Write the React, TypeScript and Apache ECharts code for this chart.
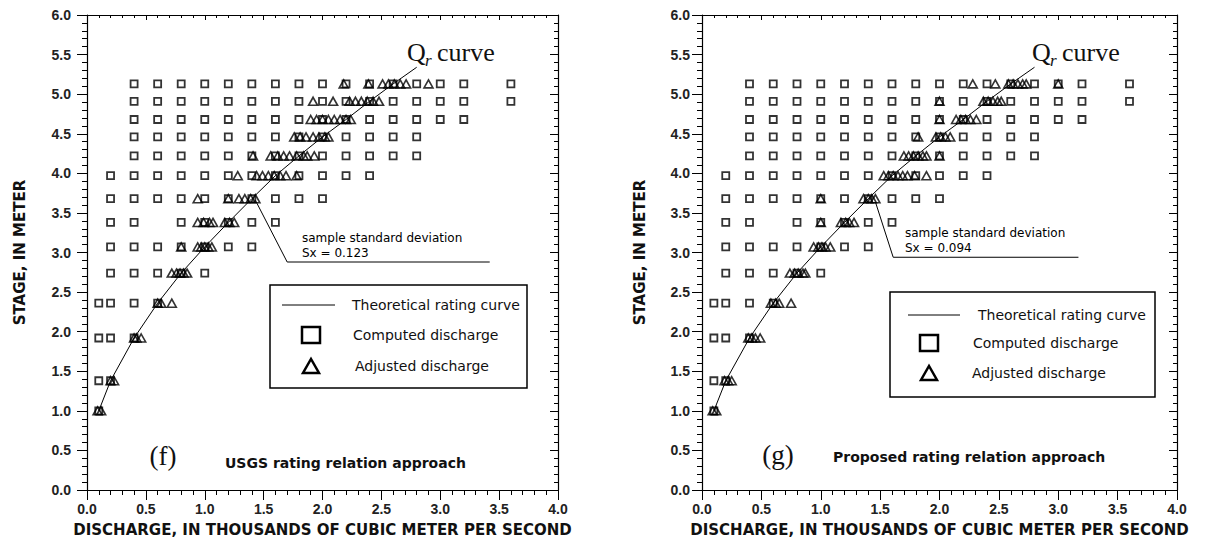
import React, { useEffect, useRef } from "react";
import * as echarts from "echarts";

// Stage levels (m) of the computed-discharge grid rows
const stageLevels = [1.0, 1.38, 1.92, 2.36, 2.74, 3.07, 3.38, 3.68, 3.97, 4.22, 4.46, 4.68, 4.91, 5.13];

// Theoretical rating curve (Qr): discharge (thousand m3/s) vs stage (m)
const curveDischarge = [0.1, 0.2, 0.4, 0.6, 0.8, 1.0, 1.2, 1.4, 1.6, 1.8, 2.0, 2.2, 2.4, 2.6, 2.8];
const curveStage = [1.0, 1.38, 1.92, 2.36, 2.74, 3.07, 3.38, 3.68, 3.97, 4.22, 4.46, 4.68, 4.91, 5.13, 5.34];

// Computed discharge per stage row (same in both panels)
const computedDischarge: number[][] = [
  [0.1],
  [0.1, 0.2],
  [0.1, 0.2, 0.4],
  [0.1, 0.2, 0.4, 0.6],
  [0.2, 0.4, 0.6, 0.8, 1.0],
  [0.2, 0.4, 0.6, 0.8, 1.0, 1.2, 1.4],
  [0.2, 0.4, 0.8, 1.0, 1.2, 1.4, 1.6],
  [0.2, 0.4, 0.6, 0.8, 1.0, 1.2, 1.4, 1.6, 1.8, 2.0],
  [0.2, 0.4, 0.6, 0.8, 1.0, 1.2, 1.4, 1.6, 1.8, 2.0, 2.2, 2.4],
  [0.4, 0.6, 0.8, 1.0, 1.2, 1.4, 1.6, 1.8, 2.0, 2.2, 2.4, 2.6, 2.8],
  [0.4, 0.6, 0.8, 1.0, 1.2, 1.4, 1.6, 1.8, 2.0, 2.2, 2.4, 2.6, 2.8],
  [0.4, 0.6, 0.8, 1.0, 1.2, 1.4, 1.6, 1.8, 2.0, 2.2, 2.4, 2.6, 2.8, 3.0, 3.2],
  [0.4, 0.6, 0.8, 1.0, 1.2, 1.4, 1.6, 1.8, 2.0, 2.2, 2.4, 2.6, 2.8, 3.0, 3.2, 3.6],
  [0.4, 0.6, 0.8, 1.0, 1.2, 1.4, 1.6, 1.8, 2.0, 2.2, 2.4, 2.6, 2.8, 3.0, 3.2, 3.6],
];

// Adjusted discharge, panel (f) USGS rating relation approach
const adjustedUSGS: number[][] = [
  [0.09, 0.12],
  [0.2, 0.23],
  [0.4, 0.42, 0.46],
  [0.6, 0.63, 0.72],
  [0.72, 0.76, 0.79, 0.82, 0.85],
  [0.8, 0.94, 0.97, 1.0, 1.03, 1.06],
  [0.94, 0.99, 1.04, 1.07, 1.17, 1.21, 1.25],
  [0.94, 1.2, 1.29, 1.34, 1.39, 1.43],
  [1.28, 1.44, 1.49, 1.54, 1.59, 1.64, 1.69, 1.78],
  [1.41, 1.56, 1.62, 1.67, 1.72, 1.78, 1.84, 1.87, 1.93],
  [1.76, 1.81, 1.86, 1.92, 1.97, 2.02, 2.05],
  [1.9, 1.95, 2.0, 2.05, 2.1, 2.15, 2.2, 2.24],
  [1.92, 2.09, 2.23, 2.28, 2.33, 2.38, 2.43, 2.48],
  [2.18, 2.39, 2.51, 2.56, 2.61, 2.66, 2.71, 2.9],
];

// Adjusted discharge, panel (g) proposed rating relation approach
const adjustedProposed: number[][] = [
  [0.09, 0.12],
  [0.19, 0.22, 0.25],
  [0.39, 0.42, 0.45, 0.49],
  [0.58, 0.62, 0.65, 0.75],
  [0.74, 0.78, 0.81, 0.85, 0.87],
  [0.94, 0.98, 1.01, 1.04, 1.08],
  [1.0, 1.17, 1.21, 1.24, 1.28],
  [1.0, 1.36, 1.4, 1.43, 1.46],
  [1.53, 1.57, 1.61, 1.65, 1.69, 1.73, 1.79, 1.89],
  [1.7, 1.74, 1.78, 1.82, 1.86, 1.89, 2.0],
  [1.82, 1.97, 2.01, 2.05, 2.09],
  [2.0, 2.14, 2.18, 2.22, 2.26, 2.31],
  [2.0, 2.37, 2.41, 2.45, 2.49, 2.52],
  [2.28, 2.47, 2.58, 2.62, 2.66, 2.7, 2.73, 3.0],
];

// Leader lines for the sample-standard-deviation notes (data coords)
const leaderUSGS = [[1.43, 3.66], [1.7, 2.88], [3.42, 2.88]];
const leaderProposed = [[1.46, 3.64], [1.61, 2.94], [3.17, 2.94]];

const sdUSGS = "0.123";
const sdProposed = "0.094";

const xTitle = "DISCHARGE, IN THOUSANDS OF CUBIC METER PER SECOND";
const yTitle = "STAGE, IN METER";

const SANS = "'DejaVu Sans', 'Liberation Sans', Arial, sans-serif";
const ARIAL = "'Liberation Sans', Arial, sans-serif";
const SERIF = "'Liberation Serif', 'Times New Roman', serif";
const INK = "#111";

function rowsToPoints(rows: number[][]) {
  const pts: number[][] = [];
  rows.forEach((qs, k) => qs.forEach((q) => pts.push([q, stageLevels[k]])));
  return pts;
}

const curvePoints = curveDischarge.map((q, i) => [q, curveStage[i]]);

const grids = [
  { left: 87, top: 15, width: 471, height: 475 },
  { left: 702, top: 15, width: 475, height: 475 },
];

function buildAxes(gi: number, yLabelMargin: number, yNameGap: number) {
  const axisLine = { show: true, onZero: false, lineStyle: { color: "#000", width: 1.2 } };
  const labelStyle = { color: "#222", fontFamily: ARIAL, fontWeight: "bold" as const, fontSize: 14 };
  const x = [
    {
      type: "value", gridIndex: gi, position: "bottom", min: 0, max: 4, interval: 0.5,
      axisLine, splitLine: { show: false },
      axisTick: { show: true, length: 10, lineStyle: { color: "#000" } },
      minorTick: { show: true, splitNumber: 5, length: 5, lineStyle: { color: "#000" } },
      axisLabel: { ...labelStyle, margin: 12, formatter: (v: number) => v.toFixed(1) },
      name: xTitle, nameLocation: "middle", nameGap: 32,
      nameTextStyle: { color: INK, fontFamily: SANS, fontWeight: "bold", fontSize: 15 },
    },
    {
      type: "value", gridIndex: gi, position: "top", min: 0, max: 4, interval: 0.5,
      axisLine, splitLine: { show: false }, axisLabel: { show: false },
      axisTick: { show: true, inside: true, length: 5, lineStyle: { color: "#000" } },
      minorTick: { show: true, splitNumber: 5, length: 3, lineStyle: { color: "#000" } },
    },
  ];
  const y = [
    {
      type: "value", gridIndex: gi, position: "left", min: 0, max: 6, interval: 0.5,
      axisLine, splitLine: { show: false },
      axisTick: { show: true, length: 10, lineStyle: { color: "#000" } },
      minorTick: { show: true, splitNumber: 5, length: 5, lineStyle: { color: "#000" } },
      axisLabel: { ...labelStyle, margin: yLabelMargin, formatter: (v: number) => v.toFixed(1) },
      name: yTitle, nameLocation: "middle", nameGap: yNameGap, nameRotate: 90,
      nameTextStyle: { color: INK, fontFamily: SANS, fontWeight: "bold", fontSize: 15 },
    },
    {
      type: "value", gridIndex: gi, position: "right", min: 0, max: 6, interval: 0.5,
      axisLine, splitLine: { show: false }, axisLabel: { show: false },
      axisTick: { show: true, inside: true, length: 8, lineStyle: { color: "#000" } },
      minorTick: { show: true, splitNumber: 5, length: 4, lineStyle: { color: "#000" } },
    },
  ];
  return { x, y };
}

function buildSeries(gi: number, adjusted: number[][], leader: number[][]) {
  const xi = gi * 2;
  const yi = gi * 2;
  const common = { xAxisIndex: xi, yAxisIndex: yi, silent: true, emphasis: { disabled: true } };
  return [
    {
      ...common, type: "scatter", name: "Computed discharge",
      data: rowsToPoints(computedDischarge), symbol: "rect", symbolSize: 7,
      itemStyle: { color: "rgba(255,255,255,0)", borderColor: "#000", borderWidth: 1.8 }, z: 2,
    },
    {
      ...common, type: "scatter", name: "Adjusted discharge",
      data: rowsToPoints(adjusted), symbol: "triangle", symbolSize: [9, 8],
      itemStyle: { color: "rgba(255,255,255,0)", borderColor: "#000", borderWidth: 1.6 }, z: 3,
    },
    {
      ...common, type: "line", name: "Theoretical rating curve", data: curvePoints,
      showSymbol: false, symbol: "none", lineStyle: { color: "#000", width: 1 }, z: 4,
    },
    {
      ...common, type: "line", name: "leader", data: leader,
      showSymbol: false, symbol: "none", lineStyle: { color: "#000", width: 1 }, z: 4,
    },
  ];
}

function panelGraphics(p: {
  box: number[]; lineY: number; lineX: number[]; textX: number[]; rowY: number[]; symX: number;
  tag: string; tagX: number; tagY: number; caption: string; capX: number; capY: number;
  qX: number; sdX: number; sdY: number; sd: string;
}) {
  const t = (x: number, y: number, text: string, extra: any = {}) => ({
    type: "text", x, y, silent: true,
    style: { text, fill: INK, font: `14px ${SANS}`, verticalAlign: "middle", align: "left", ...extra },
  });
  const [bx, by, bw, bh] = p.box;
  const tri = p.rowY[2];
  return [
    { type: "rect", shape: { x: bx, y: by, width: bw, height: bh }, style: { fill: "none", stroke: "#000", lineWidth: 1.5 }, silent: true },
    { type: "line", shape: { x1: p.lineX[0], y1: p.lineY, x2: p.lineX[1], y2: p.lineY }, style: { stroke: "#000", lineWidth: 1 }, silent: true },
    t(p.textX[0], p.rowY[0], "Theoretical rating curve"),
    { type: "rect", shape: { x: p.symX - 9, y: p.rowY[1] - 8, width: 18, height: 16 }, style: { fill: "none", stroke: "#000", lineWidth: 2.5 }, silent: true },
    t(p.textX[1], p.rowY[1], "Computed discharge"),
    { type: "polygon", shape: { points: [[p.symX - 8, tri + 7], [p.symX + 8, tri + 7], [p.symX, tri - 7]] }, style: { fill: "none", stroke: "#000", lineWidth: 2.5 }, silent: true },
    t(p.textX[2], p.rowY[2], "Adjusted discharge"),
    t(p.tagX, p.tagY, p.tag, { font: `27px ${SERIF}`, align: "center" }),
    t(p.capX, p.capY, p.caption, { font: `bold 14px ${SANS}` }),
    t(p.qX, 52, "Q", { font: `26px ${SERIF}` }),
    t(p.qX + 18, 60, "r", { font: `italic 17px ${SERIF}` }),
    t(p.qX + 30, 52, "curve", { font: `26px ${SERIF}` }),
    t(p.sdX, p.sdY, "sample standard deviation", { font: `12px ${SANS}`, fill: "#000" }),
    t(p.sdX, p.sdY + 15, `Sx = ${p.sd}`, { font: `12px ${SANS}`, fill: "#000" }),
  ];
}

function buildOption() {
  const a0 = buildAxes(0, 16, 60);
  const a1 = buildAxes(1, 12, 55);
  return {
    animation: false,
    backgroundColor: "#fff",
    grid: grids.map((g) => ({ ...g, outerBoundsMode: "none", containLabel: false })),
    xAxis: [...a0.x, ...a1.x],
    yAxis: [...a0.y, ...a1.y],
    series: [
      ...buildSeries(0, adjustedUSGS, leaderUSGS),
      ...buildSeries(1, adjustedProposed, leaderProposed),
    ],
    graphic: [
      ...panelGraphics({
        box: [270, 285, 257, 103], lineY: 305, lineX: [282, 335], textX: [352, 353, 355],
        rowY: [305, 335, 366], symX: 311, tag: "(f)", tagX: 163, tagY: 456,
        caption: "USGS rating relation approach", capX: 225, capY: 463,
        qX: 407, sdX: 302, sdY: 238, sd: sdUSGS,
      }),
      ...panelGraphics({
        box: [890, 292, 265, 105], lineY: 315, lineX: [908, 960], textX: [978, 973, 972],
        rowY: [315, 343, 373], symX: 929, tag: "(g)", tagX: 778, tagY: 455,
        caption: "Proposed rating relation approach", capX: 833, capY: 457,
        qX: 1032, sdX: 905, sdY: 233, sd: sdProposed,
      }),
    ],
  };
}

export default function App() {
  const ref = useRef<HTMLDivElement>(null);
  useEffect(() => {
    document.body.style.margin = "0";
    const chart = echarts.init(ref.current!, null, { renderer: "svg" });
    chart.setOption(buildOption() as any);
    return () => chart.dispose();
  }, []);
  return <div ref={ref} style={{ width: 1205, height: 545, background: "#fff" }} />;
}
